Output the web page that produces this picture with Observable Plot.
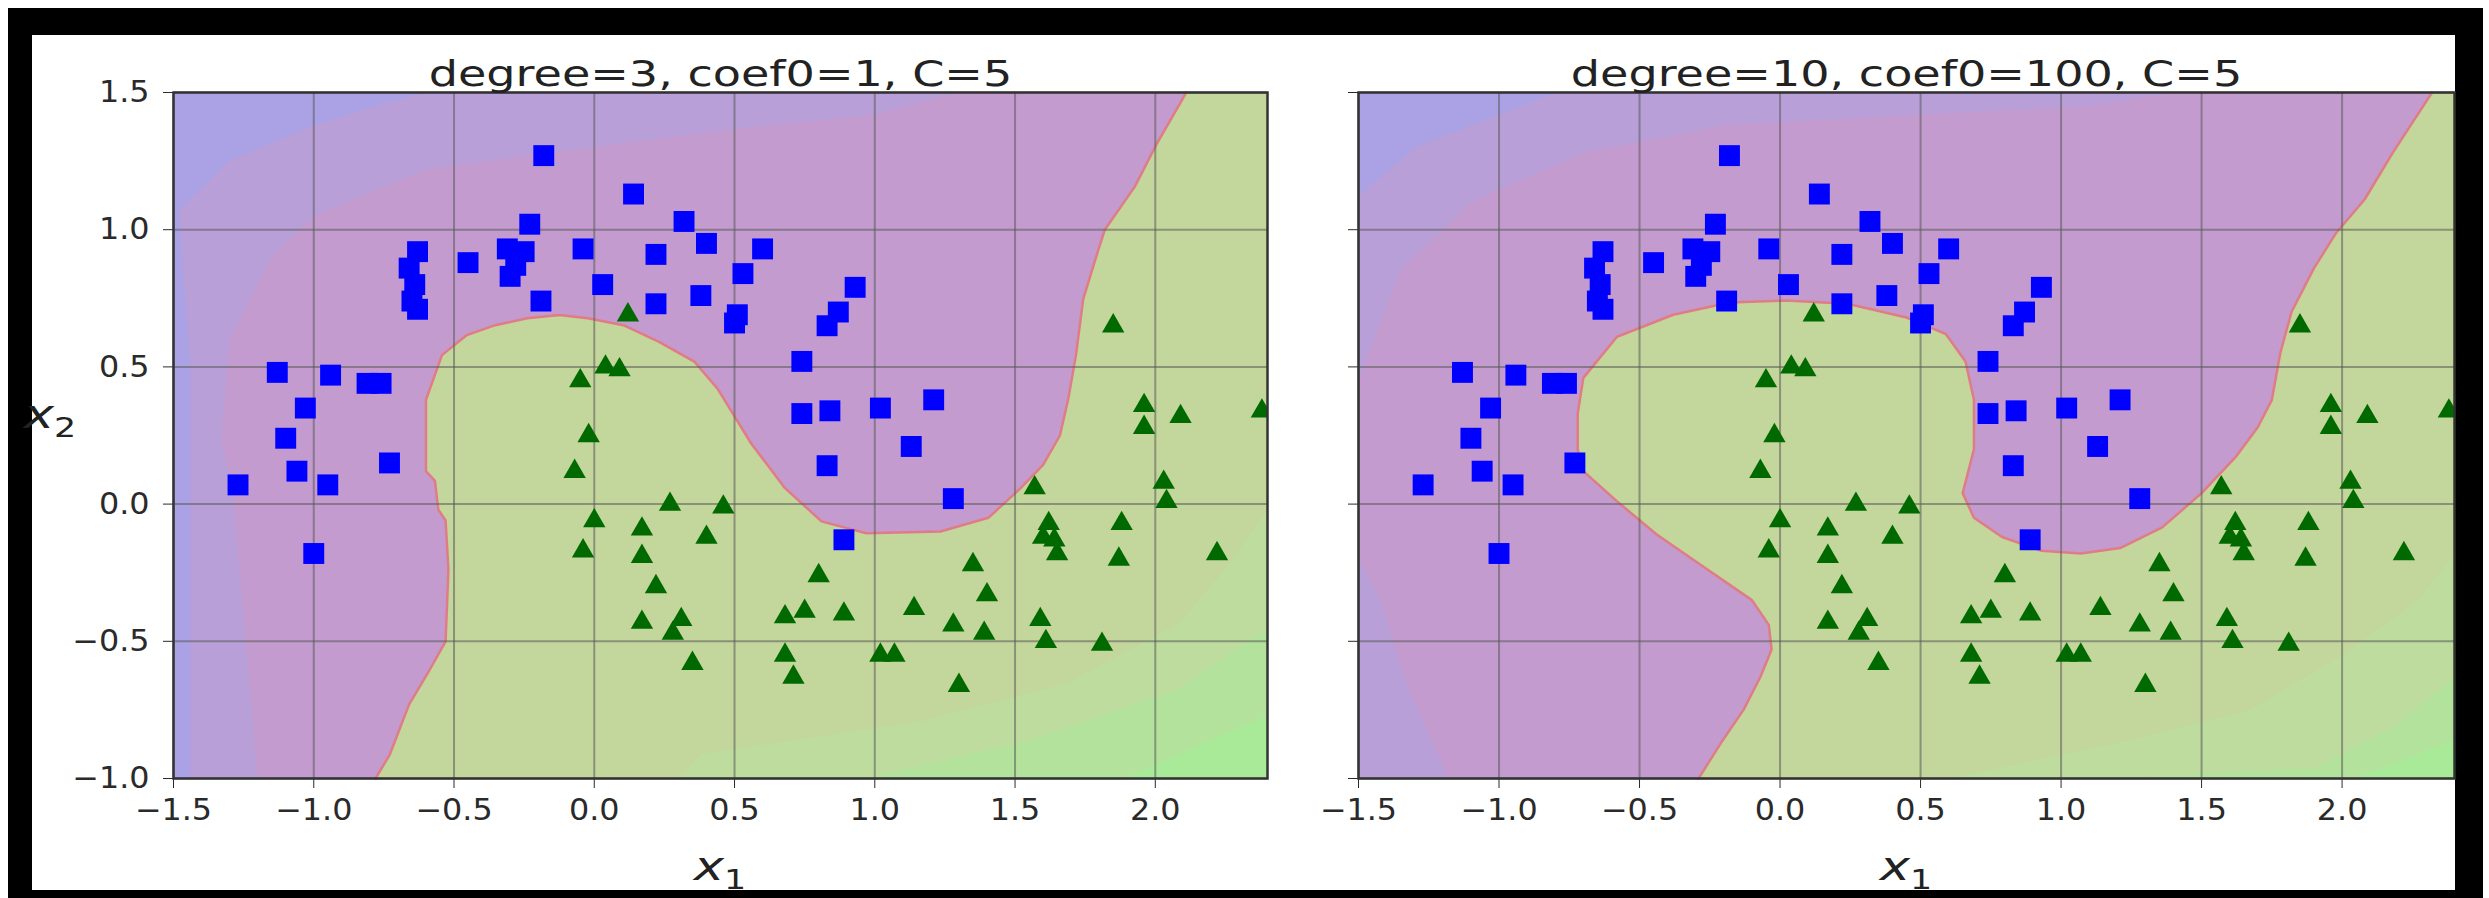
<!DOCTYPE html>
<html>
<head>
<meta charset="utf-8">
<script src="https://cdn.jsdelivr.net/npm/d3@7"></script>
<script src="https://cdn.jsdelivr.net/npm/@observablehq/plot@0.6"></script>
<style>
  html, body { margin: 0; padding: 0; background: #fff; }
  body { width: 2489px; height: 898px; position: relative; overflow: hidden; font-family: "DejaVu Sans", sans-serif; }
  #frame { position: absolute; left: 8px; top: 8px; width: 2475px; height: 890px; background: #000; }
  #inner { position: absolute; left: 32px; top: 35px; width: 2423px; height: 855px; background: #fff; }
  .panel { position: absolute; top: 35px; }
  .lab { position: absolute; font-family: "DejaVu Sans", sans-serif; color: #222; white-space: nowrap; font-size: 40px; line-height: 1; }
  .lab i { font-style: oblique; }
  .lab .sub { font-size: 0.68em; position: relative; top: 0.32em; font-style: normal; }
</style>
</head>
<body>
<div id="frame"></div>
<div id="inner"></div>
<div id="p1" class="panel" style="left:32px"></div>
<div id="p2" class="panel" style="left:1322px"></div>
<div class="lab" id="xl1" style="left:720px; top:866px; transform: translate(-50%,-50%) scaleX(1.28);"><i>x</i><span class="sub">1</span></div>
<div class="lab" id="xl2" style="left:1906px; top:866px; transform: translate(-50%,-50%) scaleX(1.28);"><i>x</i><span class="sub">1</span></div>
<div class="lab" id="yl" style="left:50px; top:414px; transform: translate(-50%,-50%) scaleX(1.28);"><i>x</i><span class="sub">2</span></div>
<script>
// ---- axes / text ----
const xDomain = [-1.5, 2.4];
const yDomain = [-1, 1.5];
const xTicks = [-1.5, -1.0, -0.5, 0.0, 0.5, 1.0, 1.5, 2.0];
const yTicks = [-1.0, -0.5, 0.0, 0.5, 1.0, 1.5];
const panelTitles = ["degree=3, coef0=1, C=5", "degree=10, coef0=100, C=5"];

// ---- data: class 0 (blue squares) ----
const squares = [
 [-0.18,1.27],[0.14,1.13],[0.32,1.03],[0.40,0.95],[0.60,0.93],[-0.23,1.02],[-0.04,0.93],[0.22,0.91],
 [0.53,0.84],[-0.45,0.88],[0.38,0.76],[0.22,0.73],[0.51,0.69],[0.50,0.66],[0.03,0.80],[-0.19,0.74],
 [0.93,0.79],[0.87,0.70],[0.83,0.65],[0.74,0.52],[0.74,0.33],[0.84,0.34],[1.02,0.35],[1.21,0.38],
 [1.13,0.21],[0.83,0.14],[1.28,0.02],[0.89,-0.13],
 [-0.63,0.92],[-0.66,0.86],[-0.64,0.80],[-0.65,0.74],[-0.63,0.71],
 [-0.31,0.93],[-0.25,0.92],[-0.28,0.87],[-0.30,0.83],
 [-1.13,0.48],[-0.94,0.47],[-0.81,0.44],[-0.76,0.44],[-1.03,0.35],[-1.10,0.24],[-1.06,0.12],
 [-1.27,0.07],[-0.95,0.07],[-0.73,0.15],[-1.00,-0.18]
];
// ---- data: class 1 (green triangles) ----
const triangles = [
 [0.12,0.70],[0.04,0.51],[0.09,0.50],[-0.05,0.46],[-0.02,0.26],[-0.07,0.13],[0.27,0.01],[0.46,0.00],
 [0.00,-0.05],[0.17,-0.08],[0.40,-0.11],[-0.04,-0.16],[0.17,-0.18],[0.22,-0.29],[0.17,-0.42],[0.31,-0.41],
 [0.28,-0.46],[0.35,-0.57],[0.80,-0.25],[0.68,-0.40],[0.75,-0.38],[0.89,-0.39],[0.68,-0.54],[0.71,-0.62],
 [1.02,-0.54],[1.07,-0.54],[1.14,-0.37],[1.28,-0.43],[1.30,-0.65],[1.35,-0.21],[1.40,-0.32],[1.39,-0.46],
 [1.57,0.07],[1.59,-0.41],[1.61,-0.49],[1.62,-0.06],[1.60,-0.11],[1.64,-0.12],[1.65,-0.17],[1.88,-0.06],
 [1.87,-0.19],[1.81,-0.50],[1.85,0.66],[1.96,0.37],[1.96,0.29],[2.09,0.33],[2.03,0.09],[2.04,0.02],
 [2.22,-0.17],[2.38,0.35]
];

// ---- decision boundaries (from bottom edge to top edge) ----
const boundary1 = [
 [-0.78,-1.0],[-0.73,-0.915],[-0.66,-0.73],[-0.59,-0.61],[-0.53,-0.50],[-0.52,-0.24],[-0.53,-0.06],
 [-0.556,-0.02],[-0.568,0.085],[-0.60,0.12],[-0.60,0.30],[-0.60,0.38],[-0.543,0.543],[-0.454,0.616],
 [-0.353,0.652],[-0.239,0.677],[-0.124,0.689],[-0.023,0.677],[0.104,0.652],[0.231,0.591],[0.358,0.518],
 [0.44,0.42],[0.50,0.32],[0.56,0.22],[0.68,0.058],[0.81,-0.063],[0.97,-0.106],[1.234,-0.10],
 [1.405,-0.05],[1.52,0.058],[1.60,0.143],[1.66,0.25],[1.69,0.385],[1.717,0.542],[1.743,0.747],
 [1.79,0.904],[1.82,1.0],[1.927,1.157],[2.005,1.313],[2.097,1.476],[2.11,1.5]
];
const boundary2 = [
 [-0.29,-1.0],[-0.21,-0.87],[-0.13,-0.75],[-0.07,-0.63],[-0.03,-0.53],[-0.04,-0.44],[-0.10,-0.35],
 [-0.27,-0.23],[-0.44,-0.11],[-0.58,0.01],[-0.70,0.12],[-0.72,0.20],[-0.72,0.33],[-0.70,0.46],
 [-0.58,0.61],[-0.38,0.69],[-0.18,0.735],[0.02,0.742],[0.24,0.73],[0.45,0.68],[0.59,0.62],[0.66,0.52],
 [0.69,0.38],[0.69,0.20],[0.65,0.04],[0.69,-0.05],[0.79,-0.12],[0.93,-0.17],[1.07,-0.18],[1.21,-0.16],
 [1.36,-0.085],[1.50,0.04],[1.62,0.17],[1.70,0.28],[1.75,0.38],[1.78,0.55],[1.82,0.70],[1.90,0.86],
 [1.98,0.99],[2.08,1.11],[2.18,1.28],[2.32,1.5]
];

// ---- decision-function contour bands ----
// bluish bands (closed through the top-left / bottom-left corners)
const blueBands1 = [
 [[-1.2,-1.0],[-1.29,0.06],[-1.33,0.23],[-1.30,0.60],[-1.15,0.90],[-1.0,1.05],[-0.6,1.22],[-0.01,1.30],[0.44,1.36],[1.0,1.42],[1.3,1.5]],
 [[-1.44,-1.0],[-1.44,0.5],[-1.48,1.07],[-1.3,1.25],[-1.0,1.38],[-0.75,1.46],[-0.6,1.5]]
];
const blueBands2 = [
 [[-1.18,-1.0],[-1.33,-0.65],[-1.42,-0.35],[-1.5,-0.2],[-1.5,0.45],[-1.35,0.85],[-1.1,1.1],[-0.7,1.28],[-0.2,1.38],[0.5,1.42],[1.1,1.45],[1.4,1.5]],
 [[-1.5,-1.0],[-1.5,1.12],[-1.3,1.3],[-1.0,1.42],[-0.8,1.5]]
];
// greenish bands (closed through the bottom-right corner)
const greenBands1 = [
 [[0.30,-1.0],[0.38,-0.91],[1.17,-0.79],[1.69,-0.65],[2.09,-0.43],[2.26,-0.22],[2.4,-0.02]],
 [[0.97,-1.0],[1.56,-0.86],[2.09,-0.67],[2.4,-0.45]],
 [[1.89,-1.0],[2.22,-0.85],[2.4,-0.77]]
];
const greenBands2 = [
 [[0.60,-1.0],[1.2,-0.87],[1.67,-0.75],[2.0,-0.55],[2.27,-0.35],[2.4,-0.18]],
 [[1.20,-1.0],[1.91,-0.96],[2.2,-0.80],[2.4,-0.63]],
 [[2.05,-1.0],[2.25,-0.92],[2.4,-0.86]]
];

const purple = "#c39bcf";
const green = "#c3d69b";
const blueShades = ["#b99fd8", "#aaa2e4"];
const greenShades = ["#bddc9d", "#b3e29c", "#a9ea99"];
const fmt = d3.format(".1f");
const X = d => d[0], Y = d => d[1];

function makePanel(i, boundary, blueBands, greenBands, width, marginLeft, marginRight) {
  const [x0, x1] = xDomain, [y0, y1] = yDomain;
  const greenPoly = [...boundary, [x1, y1], [x1, y0]];
  const marks = [
    Plot.frame({fill: purple, stroke: "none"}),
    ...blueBands.map((b, k) => Plot.line([...b, [x0, y1], [x0, y0]], {x: X, y: Y, fill: blueShades[k], stroke: "none"})),
    Plot.line(greenPoly, {x: X, y: Y, fill: green, stroke: "none"}),
    ...greenBands.map((b, k) => Plot.line([...b, [x1, y0]], {x: X, y: Y, fill: greenShades[k], stroke: "none"})),
    Plot.line(boundary, {x: X, y: Y, stroke: "#e07c86", strokeWidth: 2.5}),
    Plot.ruleX(xTicks, {stroke: "#5a5a5a", strokeOpacity: 0.55, strokeWidth: 2}),
    Plot.ruleY(yTicks, {stroke: "#5a5a5a", strokeOpacity: 0.55, strokeWidth: 2}),
    Plot.dot(squares, {x: X, y: Y, symbol: "square", r: 11.8, fill: "#0000ff", stroke: "none", clip: true}),
    Plot.dot(triangles, {x: X, y: Y, symbol: "triangle", r: 8.3, dy: 3, fill: "#006a00", stroke: "none", clip: true}),
    Plot.frame({stroke: "#333", strokeWidth: 2.5}),
    Plot.text([panelTitles[i]], {frameAnchor: "top", dy: -32, fontSize: 36, fill: "#222", text: d => d})
  ];
  return Plot.plot({
    width, height: 855,
    marginLeft, marginRight, marginTop: 57, marginBottom: 112,
    x: {domain: xDomain, ticks: xTicks, tickFormat: fmt, tickSize: 10, tickPadding: 10, label: null},
    y: {domain: yDomain, ticks: yTicks, tickFormat: i === 0 ? fmt : () => "", tickSize: 10, tickPadding: 14, label: null},
    style: {fontFamily: "DejaVu Sans, sans-serif", fontSize: "30px", color: "#2a2a2a", background: "transparent", overflow: "visible"},
    marks
  });
}

function stretch(svg) {
  svg.querySelectorAll("text").forEach(t => {
    const isTitle = t.closest('g[aria-label="text"]') !== null;
    const k = isTitle ? 1.28 : 1.06;
    const w = t.getComputedTextLength();
    if (w > 0) { t.setAttribute("textLength", (w * k).toFixed(1)); t.setAttribute("lengthAdjust", "spacingAndGlyphs"); }
  });
}

const s1 = makePanel(0, boundary1, blueBands1, greenBands1, 1290, 141, 55);
const s2 = makePanel(1, boundary2, blueBands2, greenBands2, 1133, 36, 1);
document.getElementById("p1").appendChild(s1);
document.getElementById("p2").appendChild(s2);
stretch(s1); stretch(s2);
</script>
</body>
</html>
